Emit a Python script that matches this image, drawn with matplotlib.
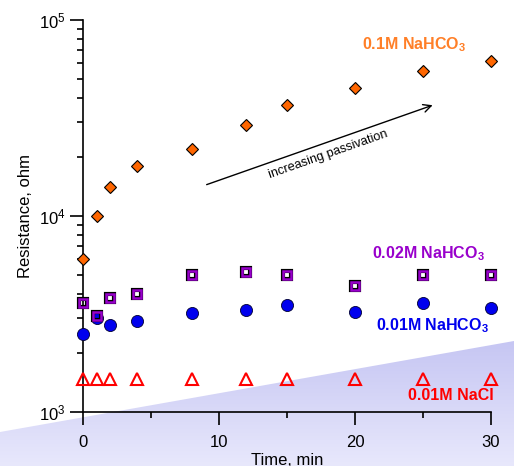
import numpy as np
import matplotlib
matplotlib.use("Agg")
import matplotlib.pyplot as plt
from matplotlib.patches import Polygon
from matplotlib.ticker import FixedLocator, NullFormatter, LogLocator

plt.rcParams['font.family'] = ['Liberation Sans', 'DejaVu Sans']
plt.rcParams['mathtext.fontset'] = 'custom'
plt.rcParams['mathtext.rm'] = 'Liberation Sans'
plt.rcParams['mathtext.bf'] = 'Liberation Sans:bold'
plt.rcParams['mathtext.default'] = 'regular'

# ---- data ----
time = [0, 1, 2, 4, 8, 12, 15, 20, 25, 30]
r_nahco3_01 = [6000, 10000, 14000, 18000, 22000, 29000, 37000, 45000, 55000, 62000]
r_nahco3_002 = [3610, 3100, 3800, 4000, 5000, 5200, 5000, 4400, 5000, 5000]
r_nahco3_001 = [2500, 3000, 2790, 2900, 3190, 3300, 3500, 3250, 3600, 3400]
r_nacl_001 = [1480, 1480, 1480, 1480, 1480, 1480, 1480, 1480, 1480, 1480]
x_ticks = [0, 10, 20, 30]
x_minor = [5, 15, 25]

W, H = 514, 466
fig = plt.figure(figsize=(W / 100, H / 100), dpi=100)

# background gradient wedge
bg = fig.add_axes([0, 0, 1, 1], zorder=0)
bg.set_xlim(0, 1); bg.set_ylim(0, 1); bg.axis('off')
top_c = np.array([0xc6, 0xc6, 0xf3]) / 255
bot_c = np.array([0xe8, 0xe8, 0xfc]) / 255
t = np.linspace(0, 1, 256)[:, None]
grad = bot_c[None, None, :] * (1 - t[..., None]) + top_c[None, None, :] * t[..., None]
grad = np.repeat(grad, 2, axis=1)
im = bg.imshow(grad, extent=[0, 1, 0, 1 - 341 / H], origin='lower', aspect='auto')
poly = Polygon([(0, 0), (0, 1 - 432 / H), (1, 1 - 341 / H), (1, 0)], closed=True,
               facecolor='none', edgecolor='none', transform=bg.transAxes)
bg.add_patch(poly)
im.set_clip_path(poly)

ax = fig.add_axes([83 / W, 1 - 412 / H, 408 / W, 392 / H], zorder=1)
ax.set_facecolor('none')
ax.set_yscale('log')
ax.set_xlim(0, 30)
ax.set_ylim(1e3, 1e5)

# series
ax.plot(time, r_nacl_001, ls='none', marker='^', ms=8.5, mfc='none', mec='#ff0000',
        mew=1.5, clip_on=False, zorder=3)
ax.plot(time, r_nahco3_001, ls='none', marker='o', ms=8.7, mfc='#0000ee', mec='#000033',
        mew=0.6, clip_on=False, zorder=3)
ax.plot(time, r_nahco3_002, ls='none', marker='s', ms=5.8, mfc='none', mec='black',
        mew=3.0, clip_on=False, zorder=4)
ax.plot(time, r_nahco3_002, ls='none', marker='s', ms=5.8, mfc='none', mec='#9900cc',
        mew=1.8, clip_on=False, zorder=4)
ax.plot(time, r_nahco3_01, ls='none', marker='D', ms=6.0, mfc='#ff6600', mec='black',
        mew=0.8, clip_on=False, zorder=4)

# labels on series
lab_kw = dict(fontsize=11.5, fontweight='bold', ha='center', va='center')
ax.text(24.3, 74500, r'0.1M NaHCO$_\mathbf{3}$', color='#ff7f27', **lab_kw)
ax.text(25.4, 6400, r'0.02M NaHCO$_\mathbf{3}$', color='#9900cc', **lab_kw)
ax.text(25.7, 2754, r'0.01M NaHCO$_\mathbf{3}$', color='#0000ee', **lab_kw)
ax.text(27.06, 1211, '0.01M NaCl', color='#ff0000', **lab_kw)

# arrow
ax.annotate('', xy=(25.9, 37150), xytext=(8.9, 14300),
            arrowprops=dict(arrowstyle='->', color='black', lw=1.0,
                            mutation_scale=14))
ax.text(18.0, 20600, 'increasing passivation', fontsize=9.2, rotation=19.4,
        rotation_mode='anchor', ha='center', va='center')

# axes styling
for s in ['top', 'right']:
    ax.spines[s].set_visible(False)
ax.spines['left'].set_linewidth(1.2)
ax.spines['bottom'].set_linewidth(1.2)
ax.xaxis.set_major_locator(FixedLocator(x_ticks))
ax.xaxis.set_minor_locator(FixedLocator(x_minor))
ax.yaxis.set_major_locator(LogLocator(base=10, numticks=5))
ax.yaxis.set_minor_locator(LogLocator(base=10, subs=np.arange(2, 10), numticks=20))
ax.yaxis.set_minor_formatter(NullFormatter())
ax.tick_params(axis='both', which='major', direction='out', length=9.4, width=1.2,
               labelsize=12, pad=7.5, colors='black')
ax.tick_params(axis='both', which='minor', direction='out', length=4.6, width=1.2)
ax.tick_params(axis='y', which='major', pad=3)

ax.set_xlabel('Time, min', fontsize=12)
ax.set_ylabel('Resistance, ohm', fontsize=12)
ax.xaxis.set_label_coords(0.5, -0.105)
ax.yaxis.set_label_coords(-0.123, 0.5)

fig.savefig('out.png', dpi=100)
